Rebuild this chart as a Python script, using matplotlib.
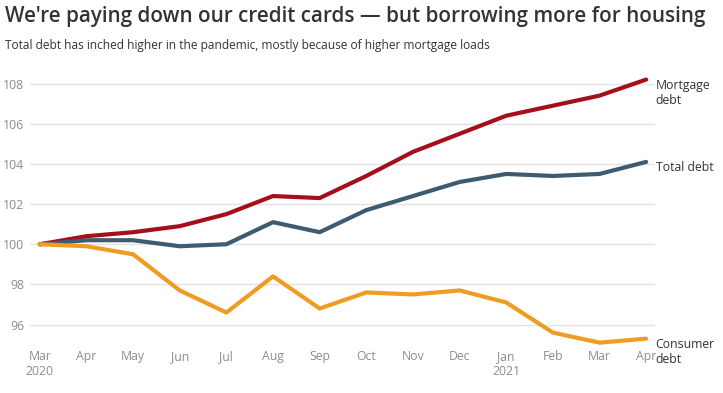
import matplotlib
matplotlib.use('Agg')
import matplotlib.pyplot as plt

# Index values, March 2020 = 100
months = ['Mar\n2020', 'Apr', 'May', 'Jun', 'Jul', 'Aug', 'Sep', 'Oct',
          'Nov', 'Dec', 'Jan\n2021', 'Feb', 'Mar', 'Apr']
mortgage = [100, 100.4, 100.6, 100.9, 101.5, 102.4, 102.3, 103.4,
            104.6, 105.5, 106.4, 106.9, 107.4, 108.2]
total = [100, 100.2, 100.2, 99.9, 100.0, 101.1, 100.6, 101.7,
         102.4, 103.1, 103.5, 103.4, 103.5, 104.1]
consumer = [100, 99.9, 99.5, 97.7, 96.6, 98.4, 96.8, 97.6,
            97.5, 97.7, 97.1, 95.6, 95.1, 95.3]
y_ticks = [96, 98, 100, 102, 104, 106, 108]

plt.rcParams['font.family'] = ['Open Sans', 'DejaVu Sans']

fig = plt.figure(figsize=(7.23, 3.93), dpi=100)
ax = fig.add_axes([0.0415, 0.123, 0.8645, 0.695])

x = list(range(len(months)))
series = [
    (mortgage, '#a50f1a', 'Mortgage\ndebt'),
    (total, '#3f5b70', 'Total debt'),
    (consumer, '#ee9c22', 'Consumer\ndebt'),
]
for vals, color, label in series:
    ax.plot(x, vals, color=color, lw=3, solid_capstyle='round',
            solid_joinstyle='round', zorder=3)
    ax.annotate(label, xy=(1.0, vals[-1]), xycoords=ax.get_yaxis_transform(),
                xytext=(0.5, 0.5), textcoords='offset points', va='top', ha='left',
                fontsize=8.8, color='#333333', linespacing=1.25,
                annotation_clip=False)

ax.set_xlim(-0.21, 13.19)
ax.set_ylim(95, 108.6)
ax.set_xticks(x)
ax.set_xticklabels(months)
ax.set_yticks(y_ticks)
ax.grid(axis='y', color='#e3e3e3', lw=1)
for s in ax.spines.values():
    s.set_visible(False)
ax.tick_params(length=0, colors='#8c8c8c', labelsize=8.8)
ax.tick_params(axis='y', pad=4)
ax.tick_params(axis='x', pad=4)

fig.text(0.007, 0.985, "We're paying down our credit cards \u2014 but borrowing more for housing",
         fontsize=14.9, fontweight='semibold', color='#333333', va='top', ha='left')
fig.text(0.007, 0.9, 'Total debt has inched higher in the pandemic, mostly because of higher mortgage loads',
         fontsize=8.6, color='#333333', va='top', ha='left')

fig.savefig('out.png', dpi=100)
